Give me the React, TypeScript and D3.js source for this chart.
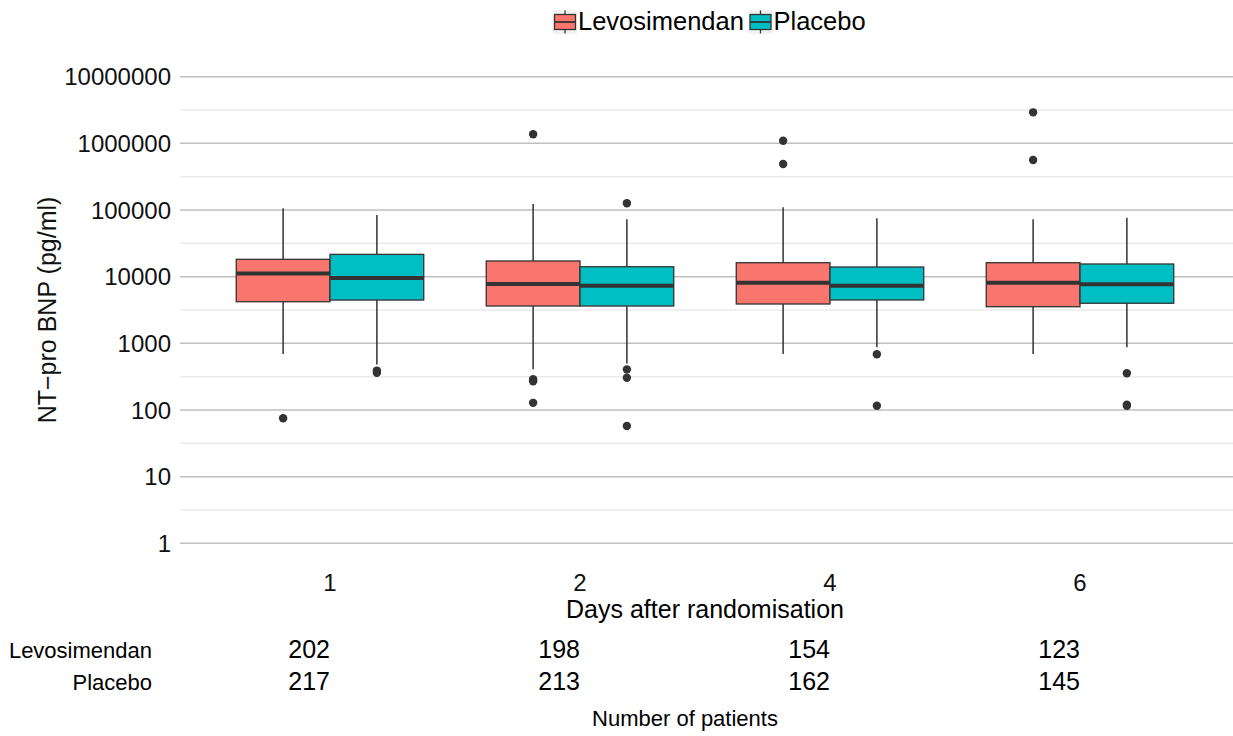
import React from "react";
import * as d3 from "d3";

const days = ["1", "2", "4", "6"];
const groups = ["Levosimendan", "Placebo"];
const colors = ["#F8766D", "#00BFC4"];
const yTicks = [1, 10, 100, 1000, 10000, 100000, 1000000, 10000000];
const yMinor = [10 ** 0.5, 10 ** 1.5, 10 ** 2.5, 10 ** 3.5, 10 ** 4.5, 10 ** 5.5, 10 ** 6.5];

// [whiskerLow, q1, median, q3, whiskerHigh]
const levoStats = [
  [692, 4210, 11200, 18200, 106000],
  [407, 3630, 7770, 17200, 123000],
  [692, 3890, 8100, 16200, 110000],
  [692, 3540, 8100, 16200, 72600],
];
const placeboStats = [
  [480, 4460, 9550, 21600, 84100],
  [500, 3630, 7310, 14100, 72600],
  [871, 4470, 7310, 13960, 75000],
  [871, 3990, 7680, 15500, 76700],
];
const levoOutliers = [
  [75],
  [1370000, 290, 270, 128],
  [1096000, 490000],
  [2920000, 562000],
];
const placeboOutliers = [
  [390, 360],
  [126000, 407, 305, 57.6],
  [684, 116],
  [355, 120, 116],
];
const levoCounts = [202, 198, 154, 123];
const placeboCounts = [217, 213, 162, 145];

const FONT = "'Liberation Sans', Arial, sans-serif";

export default function App() {
  const W = 1233;
  const H = 736;
  const x = d3.scaleBand().domain(days).range([180, 1230]).paddingInner(0.25).paddingOuter(0.225);
  const xi = d3.scaleBand().domain(groups).range([0, x.bandwidth()]).padding(0);
  const y = d3.scaleLog().domain([1, 1e7]).range([543.3, 76.7]);

  const stats = [levoStats, placeboStats];
  const outs = [levoOutliers, placeboOutliers];
  const counts = [levoCounts, placeboCounts];
  const dark = "#333333";

  return (
    <svg width={W} height={H} style={{ position: "absolute", left: 0, top: 0, background: "#fff" }} fontFamily={FONT}>
      <rect x={0} y={0} width={W} height={H} fill="#fff" />
      {/* minor grid */}
      {yMinor.map((v, i) => (
        <line key={"mi" + i} x1={180} x2={1233} y1={y(v)} y2={y(v)} stroke="#ebebeb" strokeWidth={1.5} />
      ))}
      {/* major grid */}
      {yTicks.map((v, i) => (
        <line key={"ma" + i} x1={180} x2={1233} y1={y(v)} y2={y(v)} stroke="#bfbfbf" strokeWidth={1.5} />
      ))}
      {/* y tick labels */}
      {yTicks.map((v, i) => (
        <text key={"yl" + i} x={171} y={y(v) + 8.6} textAnchor="end" fontSize={24} fill="#111">
          {String(v)}
        </text>
      ))}
      {/* y title */}
      <text transform="translate(56,310) rotate(-90)" textAnchor="middle" fontSize={25} fill="#111">
        NT−pro BNP (pg/ml)
      </text>
      {/* boxes */}
      {days.map((d, di) =>
        groups.map((g, gi) => {
          const s = stats[gi][di];
          const x0 = (x(d) as number) + (xi(g) as number);
          const bw = xi.bandwidth();
          const cx = x0 + bw / 2;
          return (
            <g key={d + g}>
              <line x1={cx} x2={cx} y1={y(s[0])} y2={y(s[1])} stroke={dark} strokeWidth={1.5} />
              <line x1={cx} x2={cx} y1={y(s[3])} y2={y(s[4])} stroke={dark} strokeWidth={1.5} />
              <rect x={x0} y={y(s[3])} width={bw} height={y(s[1]) - y(s[3])} fill={colors[gi]} stroke={dark} strokeWidth={1.3} />
              <line x1={x0} x2={x0 + bw} y1={y(s[2])} y2={y(s[2])} stroke={dark} strokeWidth={4} />
              {outs[gi][di].map((o, oi) => (
                <circle key={oi} cx={cx} cy={y(o)} r={4.2} fill={dark} />
              ))}
            </g>
          );
        })
      )}
      {/* x tick labels */}
      {days.map((d) => (
        <text key={"xl" + d} x={(x(d) as number) + x.bandwidth() / 2} y={591} textAnchor="middle" fontSize={24} fill="#111">
          {d}
        </text>
      ))}
      <text x={705} y={618} textAnchor="middle" fontSize={25} fill="#000">
        Days after randomisation
      </text>
      {/* legend */}
      {groups.map((g, gi) => {
        const kx = gi === 0 ? 553 : 748.5;
        const tx = kx + 25;
        return (
          <g key={"lg" + g}>
            <rect x={kx} y={10} width={24} height={24} fill="#f2f2f2" />
            <line x1={kx + 12} x2={kx + 12} y1={10.5} y2={33.5} stroke={dark} strokeWidth={1.3} />
            <rect x={kx + 1.5} y={14.5} width={21} height={15} fill={colors[gi]} stroke={dark} strokeWidth={1.3} />
            <line x1={kx + 1.5} x2={kx + 22.5} y1={22} y2={22} stroke={dark} strokeWidth={1.8} />
            <text x={tx} y={30} fontSize={25.5} fill="#000">
              {g}
            </text>
          </g>
        );
      })}
      {/* bottom table */}
      {groups.map((g, gi) => (
        <g key={"tb" + g}>
          <text x={152} y={658 + gi * 32} textAnchor="end" fontSize={22} fill="#000">
            {g}
          </text>
          {days.map((d, di) => (
            <text
              key={d}
              x={(x(d) as number) + x.bandwidth() / 2}
              y={658 + gi * 32}
              textAnchor="end"
              fontSize={25}
              fill="#000"
            >
              {String(counts[gi][di])}
            </text>
          ))}
        </g>
      ))}
      <text x={685} y={726} textAnchor="middle" fontSize={22} fill="#000">
        Number of patients
      </text>
    </svg>
  );
}
